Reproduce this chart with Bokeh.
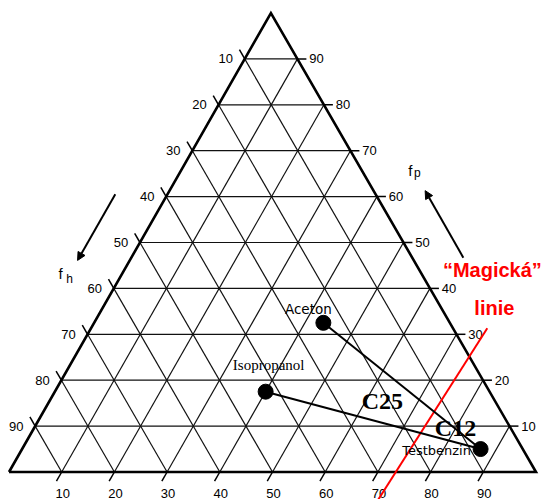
from bokeh.plotting import figure
from bokeh.models import Range1d, Arrow, NormalHead, ColumnDataSource
from bokeh.core.properties import value
from bokeh.embed import file_html
from bokeh.resources import INLINE

# Teas fractional solubility parameters (percent): fd, fp, fh
solvents = ["Aceton", "Isopropanol", "Testbenzin"]
fd_vals = [43.5, 40.0, 87.0]
fp_vals = [32.5, 17.5, 5.0]
fh_vals = [24.0, 42.5, 8.0]

# lines drawn from each solvent to the blend partner
pairs = [("Aceton", "Testbenzin"), ("Isopropanol", "Testbenzin")]

tick_values = [10, 20, 30, 40, 50, 60, 70, 80, 90]

# "magic line" end points (fd, fp)
magic_fd = [75.2, 73.0]
magic_fp = [31.3, -7.0]

# ternary -> cartesian: x along fd (bottom), y along fp (height)
SKEW = 0.497


def tern(fd, fp):
    return fd + SKEW * fp, fp


PX_X = 5.27   # pixels per unit along x
PX_Y = 4.59   # pixels per unit along y
W, H = 545, 499

p = figure(width=W, height=H, output_backend="svg", toolbar_location=None,
           x_range=Range1d(-8.5 / PX_X, (W - 8.5) / PX_X),
           y_range=Range1d(-(H - 471.5) / PX_Y, 471.5 / PX_Y),
           min_border=0)
p.axis.visible = False
p.grid.visible = False
p.outline_line_color = None
p.background_fill_color = "white"
p.border_fill_color = "white"

# ---- grid lines (three families) ----
gx, gy = [], []
for k in tick_values:
    # constant fp (horizontal)
    a = tern(0, k); b = tern(100 - k, k)
    gx.append([a[0], b[0]]); gy.append([a[1], b[1]])
    # constant fd (parallel to left edge)
    a = tern(k, 0); b = tern(k, 100 - k)
    gx.append([a[0], b[0]]); gy.append([a[1], b[1]])
    # constant fh (parallel to right edge)
    a = tern(100 - k, 0); b = tern(0, 100 - k)
    gx.append([a[0], b[0]]); gy.append([a[1], b[1]])
p.multi_line(gx, gy, line_color="#111111", line_width=1.2)

# ---- tick marks outside the triangle ----
tx, ty = [], []
for k in tick_values:
    a = tern(100 - k, k); b = tern(100 - k + 1.7, k)          # right (fp)
    tx.append([a[0], b[0]]); ty.append([a[1], b[1]])
    a = tern(k, 0); b = tern(k, -2.0)                          # bottom (fd)
    tx.append([a[0], b[0]]); ty.append([a[1], b[1]])
    a = tern(0, 100 - k); b = tern(-2.0, 100 - k + 2.0)        # left (fh)
    tx.append([a[0], b[0]]); ty.append([a[1], b[1]])
p.multi_line(tx, ty, line_color="black", line_width=1.5)

# ---- triangle outline ----
corners = [tern(0, 0), tern(100, 0), tern(0, 100), tern(0, 0)]
p.line([c[0] for c in corners], [c[1] for c in corners],
       line_color="black", line_width=2.6, line_join="miter")

# ---- tick labels ----
lab_font = value("Liberation Sans")
bx = [tern(k, 0)[0] for k in tick_values]
by = [tern(k, 0)[1] for k in tick_values]
p.text(bx, by, text=[str(k) for k in tick_values], x_offset=1, y_offset=21,
       text_align="center", text_baseline="middle", text_font=lab_font,
       text_font_size="13px", text_color="black")

rx = [tern(100 - k, k)[0] for k in tick_values]
ry = [tern(100 - k, k)[1] for k in tick_values]
p.text(rx, ry, text=[str(k) for k in tick_values], x_offset=19, y_offset=0,
       text_align="center", text_baseline="middle", text_font=lab_font,
       text_font_size="13px", text_color="black")

lx = [tern(0, 100 - k)[0] for k in tick_values]
ly = [tern(0, 100 - k)[1] for k in tick_values]
p.text(lx, ly, text=[str(k) for k in tick_values], x_offset=-19, y_offset=0,
       text_align="center", text_baseline="middle", text_font=lab_font,
       text_font_size="13px", text_color="black")

# ---- axis names with direction arrows ----
fh_anchor = tern(-11.7, 43.2)
p.text([fh_anchor[0]], [fh_anchor[1]], text=["f"], text_align="center",
       text_baseline="middle", text_font=lab_font, text_font_size="15px")
p.text([fh_anchor[0]], [fh_anchor[1]], text=["h"], x_offset=9, y_offset=5,
       text_align="center", text_baseline="middle", text_font=lab_font,
       text_font_size="12px")
fp_anchor = tern(43.5, 65.7)
p.text([fp_anchor[0]], [fp_anchor[1]], text=["f"], text_align="center",
       text_baseline="middle", text_font=lab_font, text_font_size="15px")
p.text([fp_anchor[0]], [fp_anchor[1]], text=["p"], x_offset=7, y_offset=3,
       text_align="center", text_baseline="middle", text_font=lab_font,
       text_font_size="12px")

s = tern(-9.9, 60.5); e = tern(-9.9, 46.1)
p.add_layout(Arrow(end=NormalHead(size=8, fill_color="black", line_color="black"),
                   x_start=s[0], y_start=s[1], x_end=e[0], y_end=e[1],
                   line_width=2, line_color="black"))
s = tern(63.0, 46.7); e = tern(48.5, 61.3)
p.add_layout(Arrow(end=NormalHead(size=8, fill_color="black", line_color="black"),
                   x_start=s[0], y_start=s[1], x_end=e[0], y_end=e[1],
                   line_width=2, line_color="black"))

# ---- magic line ----
mx = [tern(d, q)[0] for d, q in zip(magic_fd, magic_fp)]
my = [tern(d, q)[1] for d, q in zip(magic_fd, magic_fp)]
p.line(mx, my, line_color="#ff0000", line_width=2)
m1 = tern(69.9, 43.9)
p.text([m1[0]], [m1[1]], text=["\u201cMagická\u201d"], text_align="center",
       text_baseline="middle", text_font=value("Liberation Sans"),
       text_font_style="bold", text_font_size="20px", text_color="#ff0000")
m2 = tern(74.3, 35.8)
p.text([m2[0]], [m2[1]], text=["linie"], text_align="center",
       text_baseline="middle", text_font=value("Liberation Sans"),
       text_font_style="bold", text_font_size="20px", text_color="#ff0000")

# ---- solvents and connecting lines ----
pos = {n: tern(d, q) for n, d, q in zip(solvents, fd_vals, fp_vals)}
for a, b in pairs:
    p.line([pos[a][0], pos[b][0]], [pos[a][1], pos[b][1]],
           line_color="black", line_width=2)

src = ColumnDataSource(dict(x=[pos[n][0] for n in solvents],
                            y=[pos[n][1] for n in solvents],
                            name=solvents))
p.scatter("x", "y", source=src, size=15, fill_color="black", line_color="black")

p.text([pos["Aceton"][0]], [pos["Aceton"][1]], text=["Aceton"], x_offset=-15,
       y_offset=-14, text_align="center", text_baseline="middle",
       text_font=value("DejaVu Sans"), text_font_size="13.5px")
p.text([pos["Isopropanol"][0]], [pos["Isopropanol"][1]], text=["Isopropanol"],
       x_offset=3, y_offset=-27, text_align="center", text_baseline="middle",
       text_font=value("Liberation Serif"), text_font_size="15px")
p.text([pos["Testbenzin"][0]], [pos["Testbenzin"][1]], text=["Testbenzin"],
       x_offset=-44, y_offset=1, text_align="center", text_baseline="middle",
       text_font=value("DejaVu Sans"), text_font_size="13px")

# ---- blend labels ----
c25 = tern(63.2, 15.4)
p.text([c25[0]], [c25[1]], text=["C25"], text_align="center", text_baseline="middle",
       text_font=value("Liberation Serif"), text_font_style="bold",
       text_font_size="24px")
c12 = tern(80.0, 9.5)
p.text([c12[0]], [c12[1]], text=["C12"], text_align="center", text_baseline="middle",
       text_font=value("Liberation Serif"), text_font_style="bold",
       text_font_size="24px")

open("out.html", "w").write(file_html(p, INLINE))
